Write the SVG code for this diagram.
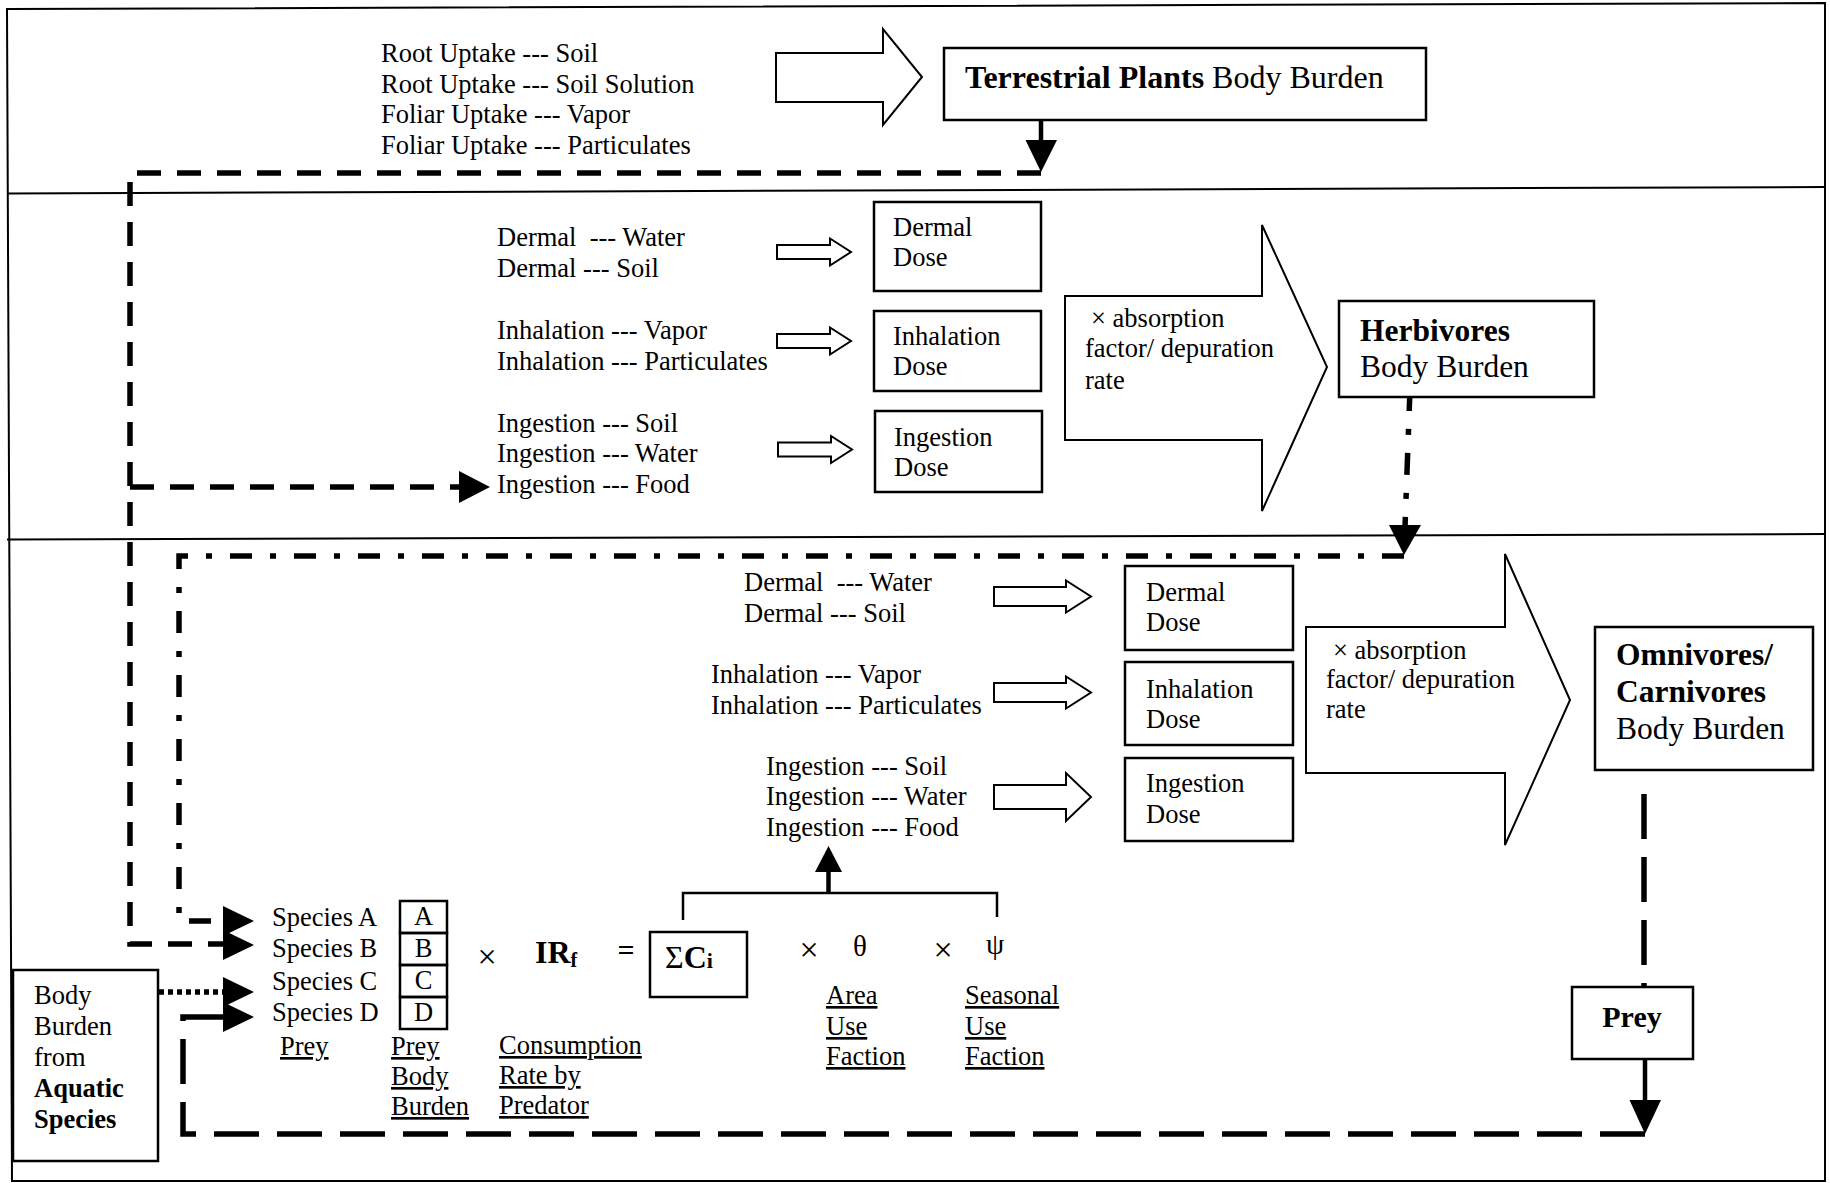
<svg xmlns="http://www.w3.org/2000/svg" width="1830" height="1183" viewBox="0 0 1830 1183">
<style>
text { font-family: "Liberation Serif", "Times New Roman", serif; font-size: 26.5px; fill: #000; }
.h { font-size: 31.5px; }
.b { font-weight: bold; }
.u { text-decoration: underline; }
.x { font-size: 34px; }
.box { fill: #fff; stroke: #000; stroke-width: 2.5; }
.harrow { fill: #fff; stroke: #000; stroke-width: 2; }
.frame { fill: none; stroke: #000; stroke-width: 2; }
.dash { fill: none; stroke: #000; stroke-width: 5.5; stroke-dasharray: 24 16; }
.dashdot { fill: none; stroke: #000; stroke-width: 5.5; stroke-dasharray: 22 18 6 18; }
.ldash { fill: none; stroke: #000; stroke-width: 5.5; stroke-dasharray: 45 18; }
.dotted { fill: none; stroke: #000; stroke-width: 5.5; stroke-dasharray: 5 4; }
.solid { fill: none; stroke: #000; stroke-width: 4.5; }
.thin { fill: none; stroke: #000; stroke-width: 2.5; }
.head { fill: #000; stroke: none; }
</style>

<g id="frame">
  <polygon class="frame" points="7,9 1825,3 1825,1181 12,1181"/>
  <line class="frame" x1="7" y1="193.5" x2="1825" y2="187"/>
  <line class="frame" x1="7" y1="539.5" x2="1825" y2="534"/>
</g>

<g id="connectors">
  <line class="solid" x1="1041" y1="121" x2="1041" y2="143"/>
  <polygon class="head" points="1025.5,140 1057,140 1041,172"/>
  <path class="dash" d="M1041,173 H130 V944 H223"/>
  <path class="dash" d="M130,487 H459"/>
  <polygon class="head" points="459,471 490,487 459,503"/>
  <polygon class="head" points="223,930 254,945 223,960"/>
  <path class="dashdot" d="M1410,389 L1405,527"/>
  <polygon class="head" points="1389,525 1421,525 1404,555"/>
  <path class="dashdot" d="M1404,556 H179 V921 H223"/>
  <polygon class="head" points="223,906 254,921 223,936"/>
  <path class="dotted" d="M159,992 H223"/>
  <polygon class="head" points="223,977 254,992 223,1007"/>
  <path class="ldash" d="M1644,794 V987"/>
  <line class="solid" x1="1645" y1="1059" x2="1645" y2="1102"/>
  <polygon class="head" points="1629.5,1100 1661,1100 1645,1134"/>
  <path class="ldash" d="M1645,1134 H183 V1017 H223"/>
  <polygon class="head" points="223,1002 254,1017 223,1032"/>
  <polyline class="thin" points="683,920 683,893 997,893 997,917"/>
  <line class="solid" x1="828.5" y1="893" x2="828.5" y2="869"/>
  <polygon class="head" points="815,872 842,872 828.5,846"/>
</g>

<g id="plant-sources">
  <text x="381" y="62">Root Uptake --- Soil</text>
  <text x="381" y="93">Root Uptake --- Soil Solution</text>
  <text x="381" y="123">Foliar Uptake --- Vapor</text>
  <text x="381" y="154">Foliar Uptake --- Particulates</text>
</g>
<g id="plant-arrow">
  <polygon class="harrow" points="776,53 883,53 883,29 922,77 883,125 883,102 776,102"/>
</g>
<g id="terrestrial-plants">
  <rect class="box" x="944" y="48" width="482" height="72"/>
  <text class="h" x="965" y="88" style="font-size:32px"><tspan class="b">Terrestrial Plants</tspan> Body Burden</text>
</g>

<g id="herb-sources">
  <text x="497" y="246" xml:space="preserve">Dermal  --- Water</text>
  <text x="497" y="277">Dermal --- Soil</text>
  <text x="497" y="339">Inhalation --- Vapor</text>
  <text x="497" y="370">Inhalation --- Particulates</text>
  <text x="497" y="432">Ingestion --- Soil</text>
  <text x="497" y="462">Ingestion --- Water</text>
  <text x="497" y="493">Ingestion --- Food</text>
  <polygon class="harrow" points="777,245 830,245 830,238.5 851,252 830,265.5 830,259 777,259"/>
  <polygon class="harrow" points="777,334 830,334 830,327.5 851,341 830,354.5 830,348 777,348"/>
  <polygon class="harrow" points="778,442.5 831,442.5 831,436 852,449.5 831,463 831,456.5 778,456.5"/>
</g>
<g id="herb-dermal-dose">
  <rect class="box" x="874" y="202" width="167" height="89"/>
  <text x="893" y="236">Dermal</text>
  <text x="893" y="266">Dose</text>
</g>
<g id="herb-inhalation-dose">
  <rect class="box" x="874" y="311" width="167" height="80"/>
  <text x="893" y="345">Inhalation</text>
  <text x="893" y="375">Dose</text>
</g>
<g id="herb-ingestion-dose">
  <rect class="box" x="875" y="411" width="167" height="81"/>
  <text x="894" y="446">Ingestion</text>
  <text x="894" y="476">Dose</text>
</g>
<g id="herb-absorption">
  <polygon class="harrow" points="1065,296 1262,296 1262,225 1327,367 1262,511 1262,440 1065,440"/>
  <text x="1091" y="327">× absorption</text>
  <text x="1085" y="357">factor/ depuration</text>
  <text x="1085" y="389">rate</text>
</g>
<g id="herbivores">
  <rect class="box" x="1339" y="301" width="255" height="96"/>
  <text class="h b" x="1360" y="341">Herbivores</text>
  <text class="h" x="1360" y="377">Body Burden</text>
</g>

<g id="omni-sources">
  <text x="744" y="591" xml:space="preserve">Dermal  --- Water</text>
  <text x="744" y="622">Dermal --- Soil</text>
  <text x="711" y="683">Inhalation --- Vapor</text>
  <text x="711" y="714">Inhalation --- Particulates</text>
  <text x="766" y="775">Ingestion --- Soil</text>
  <text x="766" y="805">Ingestion --- Water</text>
  <text x="766" y="836">Ingestion --- Food</text>
  <polygon class="harrow" points="994,587 1066,587 1066,580.5 1091,596.5 1066,612.5 1066,606 994,606"/>
  <polygon class="harrow" points="994,683 1066,683 1066,676.5 1091,692.5 1066,708.5 1066,702 994,702"/>
  <polygon class="harrow" points="994,785 1066,785 1066,773 1091,797 1066,821 1066,809 994,809"/>
</g>
<g id="omni-dermal-dose">
  <rect class="box" x="1125" y="566" width="168" height="84"/>
  <text x="1146" y="601">Dermal</text>
  <text x="1146" y="631">Dose</text>
</g>
<g id="omni-inhalation-dose">
  <rect class="box" x="1125" y="662" width="168" height="83"/>
  <text x="1146" y="698">Inhalation</text>
  <text x="1146" y="728">Dose</text>
</g>
<g id="omni-ingestion-dose">
  <rect class="box" x="1125" y="758" width="168" height="83"/>
  <text x="1146" y="792">Ingestion</text>
  <text x="1146" y="823">Dose</text>
</g>
<g id="omni-absorption">
  <polygon class="harrow" points="1306,627 1505,627 1505,554 1570,700 1505,845 1505,773 1306,773"/>
  <text x="1333" y="659">× absorption</text>
  <text x="1326" y="688">factor/ depuration</text>
  <text x="1326" y="718">rate</text>
</g>
<g id="omnivores">
  <rect class="box" x="1595" y="627" width="218" height="143"/>
  <text class="h b" x="1616" y="665">Omnivores/</text>
  <text class="h b" x="1616" y="702">Carnivores</text>
  <text class="h" x="1616" y="739">Body Burden</text>
</g>
<g id="prey">
  <rect class="box" x="1572" y="987" width="121" height="72"/>
  <text class="b" x="1632" y="1027" text-anchor="middle" style="font-size:30px">Prey</text>
</g>

<g id="aquatic">
  <rect class="box" x="13" y="970" width="145" height="191"/>
  <text x="34" y="1004">Body</text>
  <text x="34" y="1035">Burden</text>
  <text x="34" y="1066">from</text>
  <text class="b" x="34" y="1097">Aquatic</text>
  <text class="b" x="34" y="1128">Species</text>
</g>

<g id="prey-species">
  <text x="272" y="926">Species A</text>
  <text x="272" y="957">Species B</text>
  <text x="272" y="990">Species C</text>
  <text x="272" y="1021">Species D</text>
  <text class="u" x="280" y="1055">Prey</text>
</g>
<g id="prey-body-burden">
  <rect class="thin" x="400" y="901" width="47" height="32"/>
  <rect class="thin" x="400" y="933" width="47" height="32"/>
  <rect class="thin" x="400" y="965" width="47" height="32"/>
  <rect class="thin" x="400" y="997" width="47" height="32"/>
  <text x="423.5" y="925" text-anchor="middle">A</text>
  <text x="423.5" y="957" text-anchor="middle">B</text>
  <text x="423.5" y="989" text-anchor="middle">C</text>
  <text x="423.5" y="1021" text-anchor="middle">D</text>
  <text class="u" x="391" y="1055">Prey</text>
  <text class="u" x="391" y="1085">Body</text>
  <text class="u" x="391" y="1115">Burden</text>
</g>
<g id="consumption-rate">
  <text class="x" x="487" y="968" text-anchor="middle">×</text>
  <text class="b" x="535" y="963" style="font-size:32px">IR<tspan style="font-size:20px" dy="4">f</tspan></text>
  <text x="499" y="1054" class="u">Consumption</text>
  <text x="499" y="1084" class="u">Rate by</text>
  <text x="499" y="1114" class="u">Predator</text>
</g>
<g id="sum-ci">
  <text class="b" x="626" y="960" text-anchor="middle" style="font-size:30px">=</text>
  <rect class="thin" x="650" y="932" width="97" height="65"/>
  <text x="665" y="968" style="font-size:32px">Σ<tspan class="b">C</tspan><tspan class="b" style="font-size:22px">i</tspan></text>
</g>
<g id="area-use">
  <text class="x" x="809" y="961" text-anchor="middle">×</text>
  <text x="860" y="956" text-anchor="middle" style="font-size:29px">θ</text>
  <text class="u" x="826" y="1004">Area</text>
  <text class="u" x="826" y="1035">Use</text>
  <text class="u" x="826" y="1065">Faction</text>
</g>
<g id="seasonal-use">
  <text class="x" x="943" y="961" text-anchor="middle">×</text>
  <text x="995" y="954" text-anchor="middle" style="font-size:29px">ψ</text>
  <text class="u" x="965" y="1004">Seasonal</text>
  <text class="u" x="965" y="1035">Use</text>
  <text class="u" x="965" y="1065">Faction</text>
</g>
</svg>
